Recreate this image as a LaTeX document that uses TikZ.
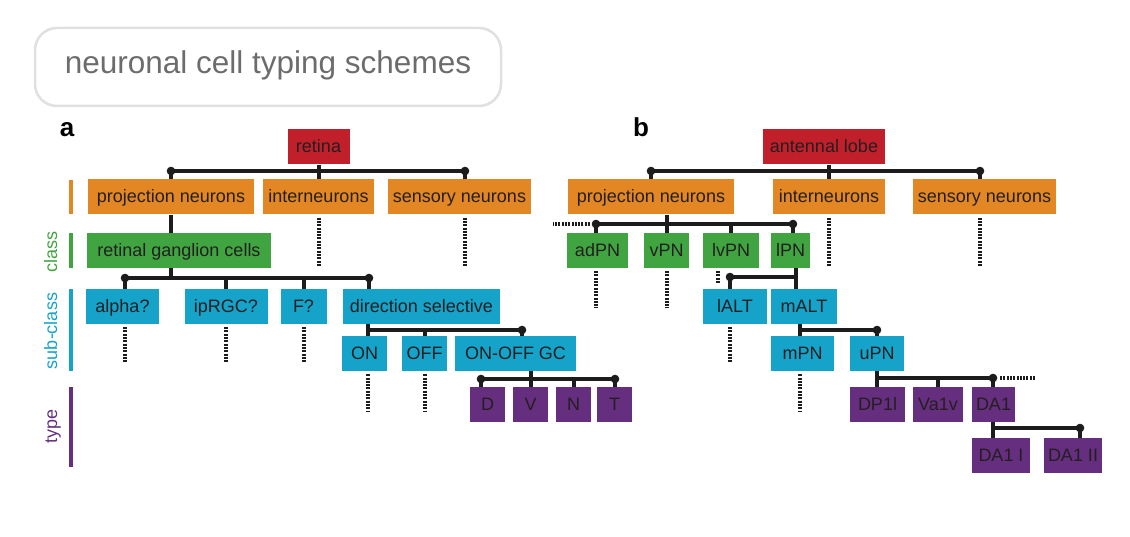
\documentclass[tikz,border=0pt]{standalone}
\usepackage{fontspec}
\setmainfont{Liberation Sans}
\definecolor{cred}{RGB}{193,32,42}
\definecolor{corange}{RGB}{227,135,36}
\definecolor{cgreen}{RGB}{64,165,65}
\definecolor{cblue}{RGB}{22,163,202}
\definecolor{cpurple}{RGB}{101,46,126}
\definecolor{ctext}{RGB}{35,31,32}
\definecolor{cline}{RGB}{28,28,28}
\definecolor{cgrey}{RGB}{108,108,108}
\definecolor{cframe}{RGB}{224,224,224}

\begin{document}
\begin{tikzpicture}[x=1pt, y=-1pt,
		box_style/.style={rectangle,inner sep=0pt,minimum height=35pt,text=ctext,
			font=\fontsize{18}{20}\selectfont,text height=13pt,text depth=1pt},
		red_box/.style={box_style,fill=cred,minimum width=#1},
		orange_box/.style={box_style,fill=corange,minimum width=#1},
		green_box/.style={box_style,fill=cgreen,minimum width=#1},
		blue_box/.style={box_style,fill=cblue,minimum width=#1},
		purple_box/.style={box_style,fill=cpurple,minimum width=#1},
		bar_style/.style={draw=cline,line width=4pt},
		dash_style/.style={draw=cline,line width=4pt,dash pattern=on 2pt off 1.3pt,shorten <=3pt},
		side_style/.style={line width=4pt},
		side_label/.style={rotate=90,anchor=base,font=\fontsize{18}{20}\selectfont},
		panel_label/.style={anchor=base,font=\bfseries\fontsize{26}{28}\selectfont}]

		\useasboundingbox (0,0) rectangle (1130,537);

		% title
		\node[draw=cframe,line width=2.5pt,rounded corners=22pt,minimum width=466pt,minimum height=78pt,
			inner sep=0pt,text=cgrey,font=\fontsize{31.5}{35}\selectfont,text height=21pt,text depth=7pt]
			(title) at (268,67) {neuronal cell typing schemes};

		\node[panel_label] (la) at (67,137) {a};
		\node[panel_label] (lb) at (641,137) {b};

		% side bars
		\draw[side_style,corange] (71,180) -- (71,214);
		\draw[side_style,cgreen] (71,233) -- (71,268);
		\draw[side_style,cblue] (71,289) -- (71,371);
		\draw[side_style,cpurple] (71,387) -- (71,467);
		\node[side_label,text=cgreen] (lclass) at (57,252) {class};
		\node[side_label,text=cblue] (lsub) at (57,331) {sub-class};
		\node[side_label,text=cpurple] (ltype) at (57,426) {type};

		% a: retina
		\node[red_box=62pt] (retina) at (318.5,147) {retina};
		\node[orange_box=166pt] (projA) at (171,197) {projection neurons};
		\node[orange_box=111pt] (interA) at (318.5,197) {interneurons};
		\node[orange_box=143pt] (sensA) at (459.5,197) {sensory neurons};
		\node[green_box=184pt] (rgc) at (179,250.5) {retinal ganglion cells};
		\node[blue_box=73pt] (alpha) at (122.5,306.5) {alpha?};
		\node[blue_box=83pt] (iprgc) at (226,306.5) {ipRGC?};
		\node[blue_box=46pt] (fA) at (303.5,306.5) {F?};
		\node[blue_box=157pt] (dsel) at (421.5,306.5) {direction selective};
		\node[blue_box=45pt] (on) at (364.5,353.5) {ON};
		\node[blue_box=45pt] (off) at (424.5,353.5) {OFF};
		\node[blue_box=121pt] (onoff) at (515.5,353.5) {ON-OFF GC};
		\node[purple_box=35pt] (tD) at (487.5,404.5) {D};
		\node[purple_box=35pt] (tV) at (530.5,404.5) {V};
		\node[purple_box=35pt] (tN) at (573.5,404.5) {N};
		\node[purple_box=35pt] (tT) at (614.5,404.5) {T};

		\coordinate (a1l) at (171,171);
		\coordinate (a1r) at (465,171);
		\coordinate (a2l) at (125,278);
		\coordinate (a2r) at (369,278);
		\coordinate (a3l) at (368,330);
		\coordinate (a3r) at (522,330);
		\coordinate (a4l) at (481,379);
		\coordinate (a4m) at (530.5,379);
		\coordinate (a4r) at (615,379);

		\draw[bar_style] (a1l) -- (a1r);
		\draw[bar_style] (retina) -- (interA);
		\draw[bar_style] (projA) -- (a1l);
		\draw[bar_style] (sensA.north -| a1r) -- (a1r);
		\draw[bar_style] (projA) -- (projA |- rgc.north);
		\draw[bar_style] (rgc.south -| projA) -- (projA |- a2l);
		\draw[bar_style] (a2l) -- (a2r);
		\draw[bar_style] (alpha.north -| a2l) -- (a2l);
		\draw[bar_style] (iprgc) -- (iprgc |- a2l);
		\draw[bar_style] (fA) -- (fA |- a2l);
		\draw[bar_style] (dsel.north -| a2r) -- (a2r);
		\draw[bar_style] (dsel.south -| a3l) -- (on.north -| a3l);
		\draw[bar_style] (a3l) -- (a3r);
		\draw[bar_style] (off) -- (off |- a3l);
		\draw[bar_style] (onoff.north -| a3r) -- (a3r);
		\draw[bar_style] (onoff.south -| a4m) -- (tV);
		\draw[bar_style] (a4l) -- (a4r);
		\draw[bar_style] (tD.north -| a4l) -- (a4l);
		\draw[bar_style] (tN) -- (tN |- a4l);
		\draw[bar_style] (tT.north -| a4r) -- (a4r);

		\draw[dash_style] (interA.south) -- ++(0,51);
		\draw[dash_style] (sensA.south -| a1r) -- ++(0,51);
		\draw[dash_style] (alpha.south -| a2l) -- ++(0,39);
		\draw[dash_style] (iprgc.south) -- ++(0,39);
		\draw[dash_style] (fA.south) -- ++(0,39);
		\draw[dash_style] (on.south -| a3l) -- ++(0,41);
		\draw[dash_style] (off.south) -- ++(0,41);

		% b: antennal lobe
		\node[red_box=122pt] (alobe) at (824,147) {antennal lobe};
		\node[orange_box=166pt] (projB) at (651,197) {projection neurons};
		\node[orange_box=112pt] (interB) at (829,197) {interneurons};
		\node[orange_box=143pt] (sensB) at (984.5,197) {sensory neurons};
		\node[green_box=61pt] (adpn) at (597.5,250.5) {adPN};
		\node[green_box=45pt] (vpn) at (666.5,250.5) {vPN};
		\node[green_box=56pt] (lvpn) at (731,250.5) {lvPN};
		\node[green_box=39pt] (lpn) at (790.5,250.5) {lPN};
		\node[blue_box=64pt] (lalt) at (735,306.5) {lALT};
		\node[blue_box=66pt] (malt) at (804,306.5) {mALT};
		\node[blue_box=63pt] (mpn) at (802.5,353.5) {mPN};
		\node[blue_box=54pt] (upn) at (877,353.5) {uPN};
		\node[purple_box=55pt] (dp1l) at (877.5,404.5) {DP1l};
		\node[purple_box=50pt] (va1v) at (938,404.5) {Va1v};
		\node[purple_box=43pt] (da1) at (993.5,404.5) {DA1};
		\node[purple_box=58pt] (da1i) at (1001,455.5) {DA1 I};
		\node[purple_box=58pt] (da1ii) at (1073,455.5) {DA1 II};

		\coordinate (b1l) at (651,171);
		\coordinate (b1r) at (980,171);
		\coordinate (b2l) at (596,224);
		\coordinate (b2r) at (793,224);
		\coordinate (b3l) at (730,277);
		\coordinate (b3m) at (796,277);
		\coordinate (b4l) at (800,330);
		\coordinate (b4r) at (877,330);
		\coordinate (b5l) at (877,378);
		\coordinate (b5r) at (993,378);
		\coordinate (b6l) at (993,428);
		\coordinate (b6r) at (1080,428);

		\draw[bar_style] (b1l) -- (b1r);
		\draw[bar_style] (alobe.south -| interB) -- (interB);
		\draw[bar_style] (projB) -- (b1l);
		\draw[bar_style] (sensB.north -| b1r) -- (b1r);
		\draw[bar_style] (projB.south -| vpn) -- (vpn);
		\draw[bar_style] (b2l) -- (b2r);
		\draw[bar_style] (adpn.north -| b2l) -- (b2l);
		\draw[bar_style] (lvpn) -- (lvpn |- b2l);
		\draw[bar_style] (lpn.north -| b2r) -- (b2r);
		\draw[bar_style] (lpn.south -| b3m) -- (malt.north -| b3m);
		\draw[bar_style] (b3l) -- (b3m);
		\draw[bar_style] (lalt.north -| b3l) -- (b3l);
		\draw[bar_style] (malt.south -| b4l) -- (mpn.north -| b4l);
		\draw[bar_style] (b4l) -- (b4r);
		\draw[bar_style] (upn) -- (b4r);
		\draw[bar_style] (upn.south -| b5l) -- (dp1l.north -| b5l);
		\draw[bar_style] (b5l) -- (b5r);
		\draw[bar_style] (va1v) -- (va1v |- b5l);
		\draw[bar_style] (da1.north -| b5r) -- (b5r);
		\draw[bar_style] (da1.south -| b6l) -- (da1i.north -| b6l);
		\draw[bar_style] (b6l) -- (b6r);
		\draw[bar_style] (da1ii.north -| b6r) -- (b6r);

		\draw[dash_style] (interB.south) -- ++(0,51);
		\draw[dash_style] (sensB.south -| b1r) -- ++(0,51);
		\draw[dash_style,shorten <=6pt] (b2l) -- ++(-43,0);
		\draw[dash_style] (adpn.south -| b2l) -- ++(0,40);
		\draw[dash_style] (vpn.south) -- ++(0,40);
		\draw[dash_style] ([xshift=-13pt]lvpn.south) -- ++(0,16);
		\draw[dash_style] (lalt.south -| b3l) -- ++(0,39);
		\draw[dash_style] (mpn.south -| b4l) -- ++(0,41);
		\draw[dash_style,shorten <=7pt] (b5r) -- ++(43,0);

		% dots at the ends of the bars
		\foreach \p in {a1l,a1r,a2l,a2r,a3r,a4l,a4r,b1l,b1r,b2l,b2r,b3l,b4r,b5r,b6r}
			\fill[cline] (\p) circle (4.3pt);

\end{tikzpicture}
\end{document}
